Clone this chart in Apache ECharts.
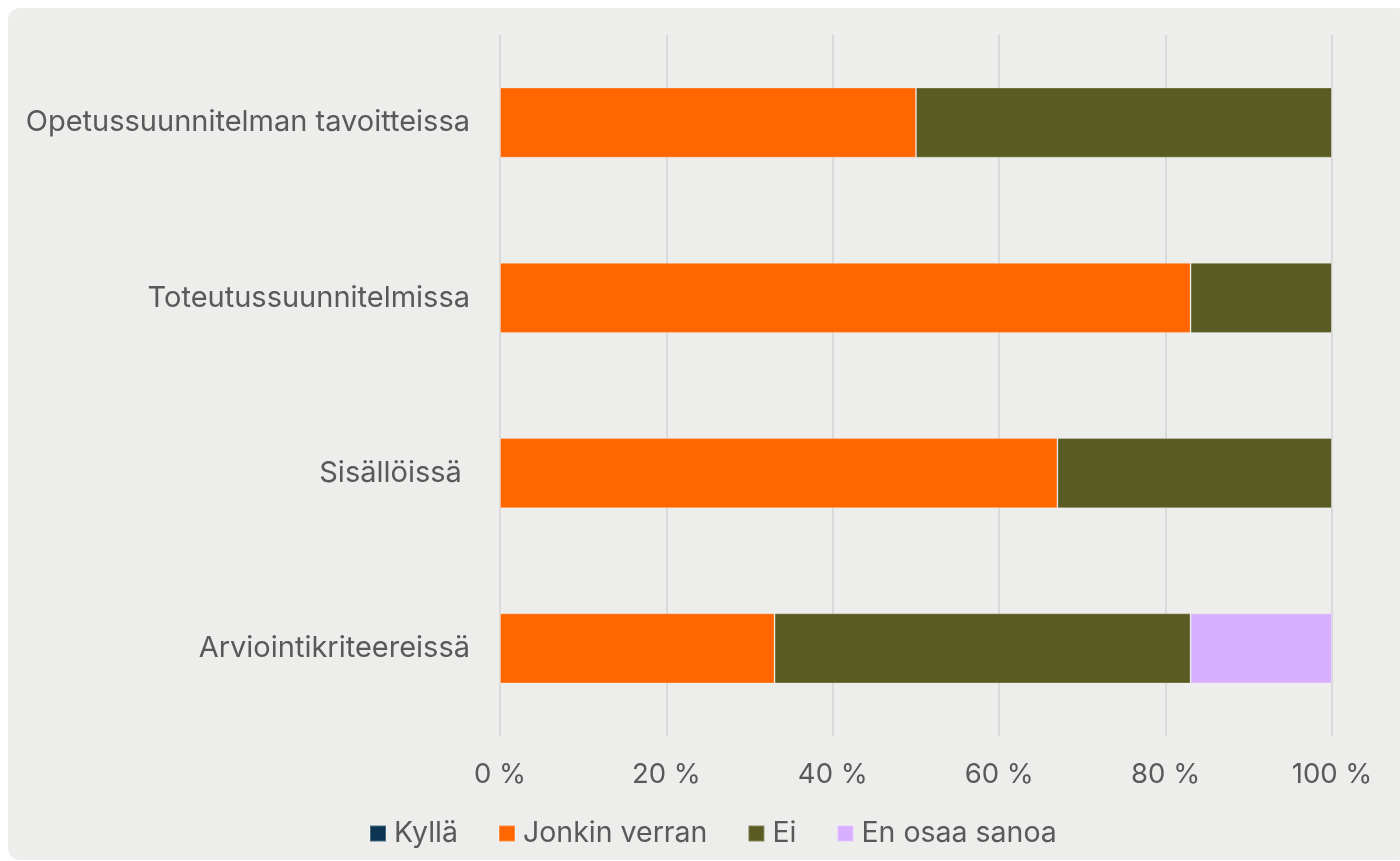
<!DOCTYPE html>
<html>
<head>
<meta charset="utf-8">
<script src="https://cdn.jsdelivr.net/npm/echarts@6/dist/echarts.min.js"></script>
<style>
html,body{margin:0;padding:0;background:#ffffff;}
#panel{position:absolute;left:8px;top:8px;width:1400px;height:852px;background:#ededeb;border-radius:12px;}
#chart{position:absolute;left:0;top:0;width:1400px;height:861px;}
</style>
</head>
<body>
<div id="panel"></div>
<div id="chart"></div>
<script>
const categories = ["Opetussuunnitelman tavoitteissa", "Toteutussuunnitelmissa", "Sisällöissä ", "Arviointikriteereissä"];
const seriesNames = ["Kyllä", "Jonkin verran", "Ei", "En osaa sanoa"];
const kylla = [0, 0, 0, 0];
const jonkinVerran = [50, 83, 67, 33];
const ei = [50, 17, 33, 50];
const enOsaaSanoa = [0, 0, 0, 17];
const tickLabels = ["0 %", "20 %", "40 %", "60 %", "80 %", "100 %"];
const colors = ["#0b3552", "#ff6600", "#5a5b22", "#d8b0ff"];

const dataSets = [kylla, jonkinVerran, ei, enOsaaSanoa];
const font = "Inter, 'Noto Sans', sans-serif";
const textColor = "#595959";

const chart = echarts.init(document.getElementById('chart'), null, {renderer: 'canvas'});
chart.setOption({
  animation: false,
  backgroundColor: 'transparent',
  grid: {left: 500, right: 68, top: 35, bottom: 125, containLabel: false},
  legend: {
    top: 814,
    left: 364,
    itemWidth: 16,
    itemHeight: 16,
    itemGap: 40,
    icon: 'rect',
    textStyle: {fontFamily: font, fontSize: 28.5, color: textColor, padding: [0,0,0,3]},
    data: seriesNames
  },
  xAxis: {
    type: 'value',
    min: 0, max: 100, interval: 20,
    axisLine: {show: false},
    axisTick: {show: false},
    splitLine: {lineStyle: {color: '#d9d9d9', width: 2}},
    axisLabel: {
      margin: 25,
      fontFamily: font, fontSize: 27.5, color: textColor,
      formatter: function(v){ return tickLabels[Math.round(v/20)]; }
    }
  },
  yAxis: {
    type: 'category',
    inverse: true,
    data: categories,
    axisLine: {show: false},
    axisTick: {show: false},
    axisLabel: {margin: 30, fontFamily: font, fontSize: 29, color: textColor}
  },
  series: seriesNames.map((n, i) => ({
    name: n,
    type: 'bar',
    stack: 'total',
    barWidth: '40%',
    itemStyle: {color: colors[i], borderColor: 'rgba(255,255,255,0.25)', borderWidth: 1},
    data: dataSets[i]
  }))
});
</script>
</body>
</html>
